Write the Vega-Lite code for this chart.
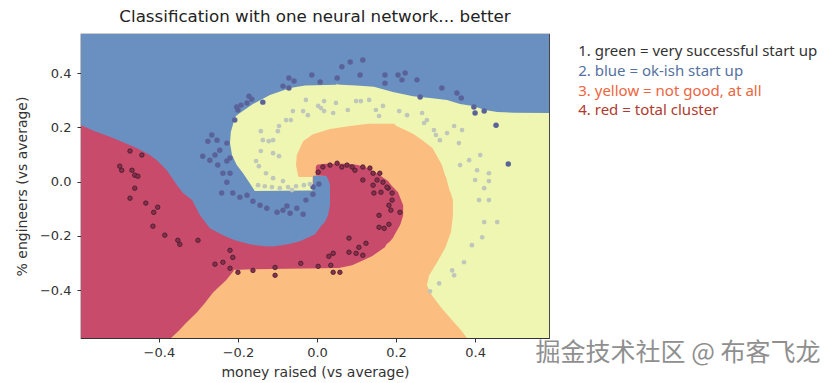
{
"$schema": "https://vega.github.io/schema/vega-lite/v6.json",
"width": 468, "height": 304,
"autosize": {"type": "none"},
"padding": {"left": 81, "top": 34, "right": 280, "bottom": 45},
"background": "white",
"title": {"text": "Classification with one neural network... better", "font": "DejaVu Sans", "fontSize": 16.7, "fontWeight": "normal", "color": "#222222", "anchor": "middle", "offset": 8},
"config": {
  "view": {"stroke": "#333333", "strokeWidth": 1.2},
  "axis": {"domain": false, "grid": false, "ticks": true, "tickSize": 4, "tickColor": "#333333", "tickWidth": 1, "labelFont": "DejaVu Sans", "labelFontSize": 13, "labelColor": "#333333", "labelOverlap": false, "labelFlush": false, "titleFont": "DejaVu Sans", "titleFontSize": 14, "titleFontWeight": "normal", "titleColor": "#333333"}
},
"datasets": {
"base": [{"x": -0.62, "xe": 0.62, "y": -0.6, "ye": 0.56}],
"bands": [
{"s":"o1","k":"orange","y":0.213,"x":0.13,"xe":0.195},
{"s":"o1","k":"orange","y":0.205,"x":0.084,"xe":0.201},
{"s":"o1","k":"orange","y":0.194,"x":0.033,"xe":0.218},
{"s":"o1","k":"orange","y":0.175,"x":-0.010,"xe":0.245},
{"s":"o1","k":"orange","y":0.149,"x":-0.035,"xe":0.270},
{"s":"o1","k":"orange","y":0.124,"x":-0.043,"xe":0.292},
{"s":"o1","k":"orange","y":0.098,"x":-0.051,"xe":0.302},
{"s":"o1","k":"orange","y":0.061,"x":-0.053,"xe":0.316},
{"s":"o1","k":"orange","y":0.024,"x":-0.048,"xe":0.324},
{"s":"o1","k":"orange","y":0.017,"x":-0.046,"xe":0.325},
{"s":"o2","k":"orange","y":0.020,"x":-0.012,"xe":0.326},
{"s":"o2","k":"orange","y":-0.013,"x":-0.012,"xe":0.332},
{"s":"o2","k":"orange","y":-0.040,"x":-0.012,"xe":0.337},
{"s":"o3","k":"orange","y":-0.036,"x":-0.62,"xe":0.337},
{"s":"o3","k":"orange","y":-0.068,"x":-0.62,"xe":0.344},
{"s":"o3","k":"orange","y":-0.124,"x":-0.62,"xe":0.344},
{"s":"o3","k":"orange","y":-0.186,"x":-0.62,"xe":0.339},
{"s":"o3","k":"orange","y":-0.245,"x":-0.62,"xe":0.324},
{"s":"o3","k":"orange","y":-0.297,"x":-0.62,"xe":0.304},
{"s":"o3","k":"orange","y":-0.345,"x":-0.62,"xe":0.284},
{"s":"o3","k":"orange","y":-0.382,"x":-0.62,"xe":0.278},
{"s":"o3","k":"orange","y":-0.419,"x":-0.62,"xe":0.291},
{"s":"o3","k":"orange","y":-0.467,"x":-0.62,"xe":0.316},
{"s":"o3","k":"orange","y":-0.511,"x":-0.62,"xe":0.342},
{"s":"o3","k":"orange","y":-0.548,"x":-0.62,"xe":0.365},
{"s":"o3","k":"orange","y":-0.577,"x":-0.62,"xe":0.380},
{"s":"o3","k":"orange","y":-0.600,"x":-0.62,"xe":0.386},
{"s":"b1","k":"blue","y":0.56,"x":-0.62,"xe":0.06},
{"s":"b1","k":"blue","y":0.359,"x":-0.62,"xe":0.05},
{"s":"b1","k":"blue","y":0.357,"x":-0.62,"xe":0.048},
{"s":"b1","k":"blue","y":0.354,"x":-0.62,"xe":-0.030},
{"s":"b1","k":"blue","y":0.345,"x":-0.62,"xe":-0.068},
{"s":"b1","k":"blue","y":0.319,"x":-0.62,"xe":-0.119},
{"s":"b1","k":"blue","y":0.286,"x":-0.62,"xe":-0.162},
{"s":"b1","k":"blue","y":0.253,"x":-0.62,"xe":-0.195},
{"s":"b1","k":"blue","y":0.242,"x":-0.62,"xe":-0.205},
{"s":"b1","k":"blue","y":0.227,"x":-0.62,"xe":-0.210},
{"s":"b1","k":"blue","y":0.208,"x":-0.62,"xe":-0.213},
{"s":"b1","k":"blue","y":0.183,"x":-0.62,"xe":-0.218},
{"s":"b1","k":"blue","y":0.142,"x":-0.62,"xe":-0.220},
{"s":"b1","k":"blue","y":0.098,"x":-0.62,"xe":-0.215},
{"s":"b1","k":"blue","y":0.061,"x":-0.62,"xe":-0.203},
{"s":"b1","k":"blue","y":0.031,"x":-0.62,"xe":-0.187},
{"s":"b1","k":"blue","y":-0.006,"x":-0.62,"xe":-0.170},
{"s":"b1","k":"blue","y":-0.031,"x":-0.62,"xe":-0.159},
{"s":"b1","k":"blue","y":-0.040,"x":-0.62,"xe":-0.156},
{"s":"b2","k":"blue","y":0.022,"x":-0.010,"xe":0.025},
{"s":"b2","k":"blue","y":0.017,"x":-0.010,"xe":0.05},
{"s":"b2","k":"blue","y":-0.033,"x":-0.010,"xe":0.05},
{"s":"b2","k":"blue","y":-0.038,"x":-0.62,"xe":0.05},
{"s":"b2","k":"blue","y":-0.250,"x":-0.62,"xe":0.05},
{"s":"b3","k":"blue","y":0.56,"x":0.04,"xe":0.62},
{"s":"b3","k":"blue","y":0.359,"x":0.05,"xe":0.62},
{"s":"b3","k":"blue","y":0.357,"x":0.06,"xe":0.62},
{"s":"b3","k":"blue","y":0.354,"x":0.10,"xe":0.62},
{"s":"b3","k":"blue","y":0.350,"x":0.144,"xe":0.62},
{"s":"b3","k":"blue","y":0.330,"x":0.192,"xe":0.62},
{"s":"b3","k":"blue","y":0.315,"x":0.243,"xe":0.62},
{"s":"b3","k":"blue","y":0.308,"x":0.286,"xe":0.62},
{"s":"b3","k":"blue","y":0.301,"x":0.329,"xe":0.62},
{"s":"b3","k":"blue","y":0.286,"x":0.362,"xe":0.62},
{"s":"b3","k":"blue","y":0.279,"x":0.395,"xe":0.62},
{"s":"b3","k":"blue","y":0.264,"x":0.425,"xe":0.62},
{"s":"b3","k":"blue","y":0.257,"x":0.456,"xe":0.62},
{"s":"b3","k":"blue","y":0.254,"x":0.500,"xe":0.62},
{"s":"b3","k":"blue","y":0.252,"x":0.62,"xe":0.62},
{"s":"r1","k":"red","y":0.212,"x":-0.62,"xe":-0.60},
{"s":"r1","k":"red","y":0.208,"x":-0.62,"xe":-0.597},
{"s":"r1","k":"red","y":0.186,"x":-0.62,"xe":-0.562},
{"s":"r1","k":"red","y":0.161,"x":-0.62,"xe":-0.516},
{"s":"r1","k":"red","y":0.124,"x":-0.62,"xe":-0.456},
{"s":"r1","k":"red","y":0.098,"x":-0.62,"xe":-0.423},
{"s":"r1","k":"red","y":0.079,"x":-0.62,"xe":-0.405},
{"s":"r1","k":"red","y":0.042,"x":-0.62,"xe":-0.380},
{"s":"r1","k":"red","y":-0.013,"x":-0.62,"xe":-0.354},
{"s":"r1","k":"red","y":-0.042,"x":-0.62,"xe":-0.339},
{"s":"r1","k":"red","y":-0.068,"x":-0.62,"xe":-0.316},
{"s":"r1","k":"red","y":-0.124,"x":-0.62,"xe":-0.296},
{"s":"r1","k":"red","y":-0.172,"x":-0.62,"xe":-0.271},
{"s":"r1","k":"red","y":-0.197,"x":-0.62,"xe":-0.238},
{"s":"r1","k":"red","y":-0.216,"x":-0.62,"xe":-0.208},
{"s":"r1","k":"red","y":-0.231,"x":-0.62,"xe":-0.170},
{"s":"r1","k":"red","y":-0.238,"x":-0.62,"xe":-0.132},
{"s":"r1","k":"red","y":-0.242,"x":-0.62,"xe":-0.10},
{"s":"r1","k":"red","y":-0.250,"x":-0.62,"xe":0.0},
{"s":"r1","k":"red","y":-0.310,"x":-0.62,"xe":0.0},
{"s":"r1","k":"red","y":-0.325,"x":-0.62,"xe":-0.212},
{"s":"r1","k":"red","y":-0.327,"x":-0.62,"xe":-0.210},
{"s":"r1","k":"red","y":-0.363,"x":-0.62,"xe":-0.230},
{"s":"r1","k":"red","y":-0.408,"x":-0.62,"xe":-0.263},
{"s":"r1","k":"red","y":-0.448,"x":-0.62,"xe":-0.284},
{"s":"r1","k":"red","y":-0.482,"x":-0.62,"xe":-0.304},
{"s":"r1","k":"red","y":-0.522,"x":-0.62,"xe":-0.332},
{"s":"r1","k":"red","y":-0.548,"x":-0.62,"xe":-0.349},
{"s":"r1","k":"red","y":-0.577,"x":-0.62,"xe":-0.370},
{"s":"r1","k":"red","y":-0.600,"x":-0.62,"xe":-0.380},
{"s":"r2","k":"red","y":0.066,"x":0.02,"xe":0.08},
{"s":"r2","k":"red","y":0.062,"x":0.0,"xe":0.10},
{"s":"r2","k":"red","y":0.054,"x":-0.003,"xe":0.122},
{"s":"r2","k":"red","y":0.035,"x":-0.003,"xe":0.147},
{"s":"r2","k":"red","y":0.023,"x":-0.003,"xe":0.161},
{"s":"r2","k":"red","y":0.021,"x":0.025,"xe":0.162},
{"s":"r2","k":"red","y":0.017,"x":0.025,"xe":0.165},
{"s":"r2","k":"red","y":0.002,"x":0.030,"xe":0.180},
{"s":"r2","k":"red","y":-0.013,"x":0.033,"xe":0.188},
{"s":"r2","k":"red","y":-0.039,"x":0.033,"xe":0.205},
{"s":"r2","k":"red","y":-0.087,"x":0.033,"xe":0.218},
{"s":"r2","k":"red","y":-0.124,"x":0.028,"xe":0.218},
{"s":"r2","k":"red","y":-0.149,"x":0.020,"xe":0.213},
{"s":"r2","k":"red","y":-0.161,"x":0.012,"xe":0.210},
{"s":"r2","k":"red","y":-0.194,"x":-0.005,"xe":0.197},
{"s":"r2","k":"red","y":-0.208,"x":-0.025,"xe":0.192},
{"s":"r2","k":"red","y":-0.220,"x":-0.043,"xe":0.185},
{"s":"r2","k":"red","y":-0.231,"x":-0.073,"xe":0.176},
{"s":"r2","k":"red","y":-0.238,"x":-0.106,"xe":0.173},
{"s":"r2","k":"red","y":-0.242,"x":-0.140,"xe":0.172},
{"s":"r2","k":"red","y":-0.245,"x":-0.62,"xe":0.168},
{"s":"r2","k":"red","y":-0.275,"x":-0.62,"xe":0.139},
{"s":"r2","k":"red","y":-0.308,"x":-0.62,"xe":0.089},
{"s":"r2","k":"red","y":-0.318,"x":-0.62,"xe":0.055},
{"s":"r2","k":"red","y":-0.324,"x":-0.62,"xe":-0.20}
],
"pts": [
{"x":-0.241,"y":-0.042,"k":"pb"},{"x":-0.213,"y":-0.042,"k":"pb"},{"x":-0.195,"y":-0.057,"k":"pb"},{"x":-0.177,"y":-0.050,"k":"pb"},{"x":-0.162,"y":-0.072,"k":"pb"},{"x":-0.144,"y":-0.087,"k":"pb"},{"x":-0.127,"y":-0.098,"k":"pb"},{"x":-0.101,"y":-0.113,"k":"pb"},{"x":-0.076,"y":-0.090,"k":"pb"},{"x":-0.068,"y":-0.116,"k":"pb"},{"x":-0.051,"y":-0.098,"k":"pb"},{"x":-0.035,"y":-0.120,"k":"pb"},{"x":-0.028,"y":-0.068,"k":"pb"},{"x":-0.010,"y":-0.046,"k":"pb"},{"x":-0.010,"y":-0.020,"k":"pb"},{"x":0.005,"y":-0.009,"k":"pb"},{"x":-0.086,"y":-0.105,"k":"pb"},{"x":-0.228,"y":-0.002,"k":"pb"},{"x":-0.220,"y":0.031,"k":"pb"},{"x":-0.238,"y":0.031,"k":"pb"},{"x":-0.251,"y":0.061,"k":"pb"},{"x":-0.228,"y":0.076,"k":"pb"},{"x":-0.220,"y":0.087,"k":"pb"},{"x":-0.271,"y":0.079,"k":"pb"},{"x":-0.289,"y":0.094,"k":"pb"},{"x":-0.258,"y":0.098,"k":"pb"},{"x":-0.276,"y":0.149,"k":"pb"},{"x":-0.266,"y":0.172,"k":"pb"},{"x":-0.253,"y":0.153,"k":"pb"},{"x":-0.228,"y":0.142,"k":"pb"},{"x":-0.246,"y":0.116,"k":"pb"},{"x":-0.208,"y":0.227,"k":"pb"},{"x":-0.203,"y":0.275,"k":"pb"},{"x":-0.200,"y":0.264,"k":"pb"},{"x":-0.192,"y":0.282,"k":"pb"},{"x":-0.177,"y":0.290,"k":"pb"},{"x":-0.172,"y":0.315,"k":"pb"},{"x":-0.165,"y":0.304,"k":"pb"},{"x":-0.137,"y":0.293,"k":"pb"},{"x":-0.086,"y":0.352,"k":"pb"},{"x":-0.071,"y":0.345,"k":"pb"},{"x":-0.071,"y":0.382,"k":"pb"},{"x":-0.058,"y":0.371,"k":"pb"},{"x":-0.013,"y":0.393,"k":"pb"},{"x":0.008,"y":0.367,"k":"pb"},{"x":0.051,"y":0.382,"k":"pb"},{"x":0.063,"y":0.423,"k":"pb"},{"x":0.084,"y":0.441,"k":"pb"},{"x":0.116,"y":0.448,"k":"pb"},{"x":0.109,"y":0.393,"k":"pb"},{"x":0.172,"y":0.393,"k":"pb"},{"x":0.172,"y":0.363,"k":"pb"},{"x":0.205,"y":0.393,"k":"pb"},{"x":0.215,"y":0.375,"k":"pb"},{"x":0.223,"y":0.400,"k":"pb"},{"x":0.253,"y":0.375,"k":"pb"},{"x":0.261,"y":0.312,"k":"pb"},{"x":0.316,"y":0.345,"k":"pb"},{"x":0.354,"y":0.327,"k":"pb"},{"x":0.365,"y":0.308,"k":"pb"},{"x":0.397,"y":0.275,"k":"pb"},{"x":0.423,"y":0.260,"k":"pb"},{"x":0.400,"y":0.253,"k":"pb"},{"x":0.453,"y":0.208,"k":"pb"},{"x":0.484,"y":0.065,"k":"pb"},
{"x":-0.028,"y":0.301,"k":"pg"},{"x":0.018,"y":0.297,"k":"pg"},{"x":0.048,"y":0.290,"k":"pg"},{"x":0.003,"y":0.279,"k":"pg"},{"x":0.010,"y":0.271,"k":"pg"},{"x":0.018,"y":0.260,"k":"pg"},{"x":0.041,"y":0.253,"k":"pg"},{"x":0.078,"y":0.264,"k":"pg"},{"x":0.099,"y":0.297,"k":"pg"},{"x":0.111,"y":0.297,"k":"pg"},{"x":0.132,"y":0.301,"k":"pg"},{"x":0.149,"y":0.264,"k":"pg"},{"x":0.167,"y":0.279,"k":"pg"},{"x":0.157,"y":0.242,"k":"pg"},{"x":-0.035,"y":0.260,"k":"pg"},{"x":-0.023,"y":0.245,"k":"pg"},{"x":-0.061,"y":0.260,"k":"pg"},{"x":-0.066,"y":0.227,"k":"pg"},{"x":-0.078,"y":0.227,"k":"pg"},{"x":-0.096,"y":0.205,"k":"pg"},{"x":-0.099,"y":0.186,"k":"pg"},{"x":-0.111,"y":0.153,"k":"pg"},{"x":-0.122,"y":0.149,"k":"pg"},{"x":-0.142,"y":0.186,"k":"pg"},{"x":-0.137,"y":0.153,"k":"pg"},{"x":-0.142,"y":0.113,"k":"pg"},{"x":-0.111,"y":0.105,"k":"pg"},{"x":-0.096,"y":0.094,"k":"pg"},{"x":-0.154,"y":0.076,"k":"pg"},{"x":-0.147,"y":0.057,"k":"pg"},{"x":-0.129,"y":0.031,"k":"pg"},{"x":-0.111,"y":0.013,"k":"pg"},{"x":-0.086,"y":0.002,"k":"pg"},{"x":-0.149,"y":-0.013,"k":"pg"},{"x":-0.132,"y":-0.017,"k":"pg"},{"x":-0.114,"y":-0.020,"k":"pg"},{"x":-0.094,"y":-0.024,"k":"pg"},{"x":-0.073,"y":-0.020,"k":"pg"},{"x":-0.053,"y":-0.017,"k":"pg"},{"x":-0.033,"y":-0.013,"k":"pg"},{"x":-0.018,"y":-0.009,"k":"pg"},{"x":-0.063,"y":-0.031,"k":"pg"},{"x":0.208,"y":0.260,"k":"pg"},{"x":0.228,"y":0.245,"k":"pg"},{"x":0.266,"y":0.253,"k":"pg"},{"x":0.271,"y":0.216,"k":"pg"},{"x":0.278,"y":0.227,"k":"pg"},{"x":0.296,"y":0.190,"k":"pg"},{"x":0.301,"y":0.172,"k":"pg"},{"x":0.311,"y":0.153,"k":"pg"},{"x":0.329,"y":0.179,"k":"pg"},{"x":0.347,"y":0.205,"k":"pg"},{"x":0.367,"y":0.190,"k":"pg"},{"x":0.359,"y":0.142,"k":"pg"},{"x":0.385,"y":0.079,"k":"pg"},{"x":0.413,"y":0.098,"k":"pg"},{"x":0.362,"y":0.061,"k":"pg"},{"x":0.405,"y":0.042,"k":"pg"},{"x":0.435,"y":0.031,"k":"pg"},{"x":0.400,"y":0.006,"k":"pg"},{"x":0.435,"y":0.002,"k":"pg"},{"x":0.423,"y":-0.024,"k":"pg"},{"x":0.410,"y":-0.068,"k":"pg"},{"x":0.435,"y":-0.068,"k":"pg"},{"x":0.423,"y":-0.149,"k":"pg"},{"x":0.456,"y":-0.149,"k":"pg"},{"x":0.418,"y":-0.205,"k":"pg"},{"x":0.392,"y":-0.234,"k":"pg"},{"x":0.372,"y":-0.297,"k":"pg"},{"x":0.342,"y":-0.327,"k":"pg"},{"x":0.347,"y":-0.345,"k":"pg"},{"x":0.309,"y":-0.375,"k":"pg"},{"x":0.286,"y":-0.404,"k":"pg"},
{"x":-0.473,"y":0.113,"k":"pr"},{"x":-0.443,"y":0.098,"k":"pr"},{"x":-0.499,"y":0.057,"k":"pr"},{"x":-0.494,"y":0.042,"k":"pr"},{"x":-0.468,"y":0.042,"k":"pr"},{"x":-0.461,"y":0.024,"k":"pr"},{"x":-0.453,"y":0.020,"k":"pr"},{"x":-0.461,"y":-0.024,"k":"pr"},{"x":-0.473,"y":-0.061,"k":"pr"},{"x":-0.433,"y":-0.079,"k":"pr"},{"x":-0.403,"y":-0.094,"k":"pr"},{"x":-0.413,"y":-0.113,"k":"pr"},{"x":-0.415,"y":-0.164,"k":"pr"},{"x":-0.385,"y":-0.197,"k":"pr"},{"x":-0.352,"y":-0.216,"k":"pr"},{"x":-0.347,"y":-0.231,"k":"pr"},{"x":-0.301,"y":-0.216,"k":"pr"},{"x":-0.258,"y":-0.304,"k":"pr"},{"x":-0.238,"y":-0.297,"k":"pr"},{"x":-0.220,"y":-0.253,"k":"pr"},{"x":-0.213,"y":-0.279,"k":"pr"},{"x":-0.220,"y":-0.319,"k":"pr"},{"x":-0.200,"y":-0.334,"k":"pr"},{"x":-0.162,"y":-0.327,"k":"pr"},{"x":-0.106,"y":-0.316,"k":"pr"},{"x":-0.106,"y":-0.345,"k":"pr"},{"x":-0.041,"y":-0.301,"k":"pr"},{"x":0.003,"y":-0.312,"k":"pr"},{"x":0.030,"y":-0.275,"k":"pr"},{"x":0.041,"y":-0.264,"k":"pr"},{"x":0.035,"y":-0.308,"k":"pr"},{"x":0.041,"y":-0.334,"k":"pr"},{"x":0.058,"y":-0.334,"k":"pr"},{"x":0.081,"y":-0.208,"k":"pr"},{"x":0.081,"y":-0.260,"k":"pr"},{"x":0.099,"y":-0.264,"k":"pr"},{"x":0.106,"y":-0.242,"k":"pr"},{"x":0.124,"y":-0.227,"k":"pr"},{"x":0.116,"y":-0.271,"k":"pr"},{"x":0.144,"y":-0.042,"k":"pr"},{"x":0.157,"y":-0.124,"k":"pr"},{"x":0.157,"y":-0.168,"k":"pr"},{"x":0.170,"y":-0.172,"k":"pr"},{"x":0.182,"y":-0.157,"k":"pr"},{"x":0.182,"y":-0.087,"k":"pr"},{"x":0.187,"y":-0.105,"k":"pr"},{"x":0.162,"y":-0.039,"k":"pr"},{"x":0.180,"y":-0.024,"k":"pr"},{"x":0.190,"y":-0.068,"k":"pr"},{"x":0.210,"y":-0.113,"k":"pr"},{"x":0.003,"y":0.035,"k":"pr"},{"x":0.015,"y":0.054,"k":"pr"},{"x":0.033,"y":0.061,"k":"pr"},{"x":0.051,"y":0.068,"k":"pr"},{"x":0.063,"y":0.054,"k":"pr"},{"x":0.076,"y":0.061,"k":"pr"},{"x":0.089,"y":0.054,"k":"pr"},{"x":0.096,"y":0.042,"k":"pr"},{"x":0.116,"y":0.054,"k":"pr"},{"x":0.134,"y":0.050,"k":"pr"},{"x":0.142,"y":0.031,"k":"pr"},{"x":0.159,"y":0.031,"k":"pr"},{"x":0.152,"y":0.006,"k":"pr"},{"x":0.167,"y":-0.002,"k":"pr"},{"x":0.177,"y":-0.020,"k":"pr"},{"x":0.190,"y":-0.042,"k":"pr"},{"x":0.142,"y":-0.013,"k":"pr"},{"x":0.116,"y":0.006,"k":"pr"}
],
"notes": [
{"x":0.661,"y":0.483,"t":"1. green = very successful start up","k":"n1"},
{"x":0.661,"y":0.409,"t":"2. blue = ok-ish start up","k":"n2"},
{"x":0.661,"y":0.335,"t":"3. yellow = not good, at all","k":"n3"},
{"x":0.661,"y":0.264,"t":"4. red = total cluster","k":"n4"}
],
"wm": [
{"x":0.553,"y":-0.633,"t":"掘金技术社区 @ 布客飞龙"}
]
},
"encoding": {
  "x": {"field": "x", "type": "quantitative", "stack": null, "title": "money raised (vs average)", "scale": {"domain": [-0.597, 0.587], "nice": false, "zero": false}, "axis": {"values": [-0.4, -0.2, 0, 0.2, 0.4], "format": ".1f", "labelPadding": 4, "titlePadding": 6}},
  "y": {"field": "y", "type": "quantitative", "title": "% engineers (vs average)", "scale": {"domain": [-0.576, 0.544], "nice": false, "zero": false}, "axis": {"values": [-0.4, -0.2, 0, 0.2, 0.4], "format": ".1f", "labelPadding": 6, "titlePadding": 10}}
},
"layer": [
  {"data": {"name": "base"}, "mark": {"type": "rect", "clip": true, "color": "#eef6b2"}, "encoding": {"x2": {"field": "xe"}, "y2": {"field": "ye"}}},
  {"data": {"name": "bands"}, "transform": [{"filter": "datum.k === 'orange'"}], "mark": {"type": "area", "orient": "horizontal", "clip": true, "color": "#fbbd80", "interpolate": "linear"}, "encoding": {"x2": {"field": "xe"}, "detail": {"field": "s"}}},
  {"data": {"name": "bands"}, "transform": [{"filter": "datum.k === 'blue'"}], "mark": {"type": "area", "orient": "horizontal", "clip": true, "color": "#6a8fc1", "interpolate": "linear"}, "encoding": {"x2": {"field": "xe"}, "detail": {"field": "s"}}},
  {"data": {"name": "bands"}, "transform": [{"filter": "datum.k === 'red'"}], "mark": {"type": "area", "orient": "horizontal", "clip": true, "color": "#c84b6b", "interpolate": "linear"}, "encoding": {"x2": {"field": "xe"}, "detail": {"field": "s"}}},
  {"data": {"name": "pts"}, "transform": [{"filter": "datum.k === 'pb'"}], "mark": {"type": "circle", "clip": true, "size": 30, "color": "#5a6399", "opacity": 1}},
  {"data": {"name": "pts"}, "transform": [{"filter": "datum.k === 'pg'"}], "mark": {"type": "circle", "clip": true, "size": 22, "color": "#bfc6ba", "opacity": 1}},
  {"data": {"name": "pts"}, "transform": [{"filter": "datum.k === 'pr'"}], "mark": {"type": "point", "shape": "circle", "filled": true, "clip": true, "size": 20, "fill": "#8c2d4e", "stroke": "#3a1e2a", "strokeWidth": 0.8, "opacity": 1}},
  {"data": {"name": "notes"}, "mark": {"type": "text", "align": "left", "baseline": "middle", "font": "Noto Sans", "fontSize": 15},
   "encoding": {"text": {"field": "t"}, "fill": {"field": "k", "type": "nominal", "legend": null, "scale": {"domain": ["n1","n2","n3","n4"], "range": ["#333333","#54719f","#ee6440","#b03a30"]}}}},
  {"data": {"name": "wm"}, "mark": {"type": "text", "align": "left", "baseline": "middle", "font": "Noto Sans CJK SC", "fontSize": 25, "color": "#8f8f8f"},
   "encoding": {"text": {"field": "t"}}}
]
}
